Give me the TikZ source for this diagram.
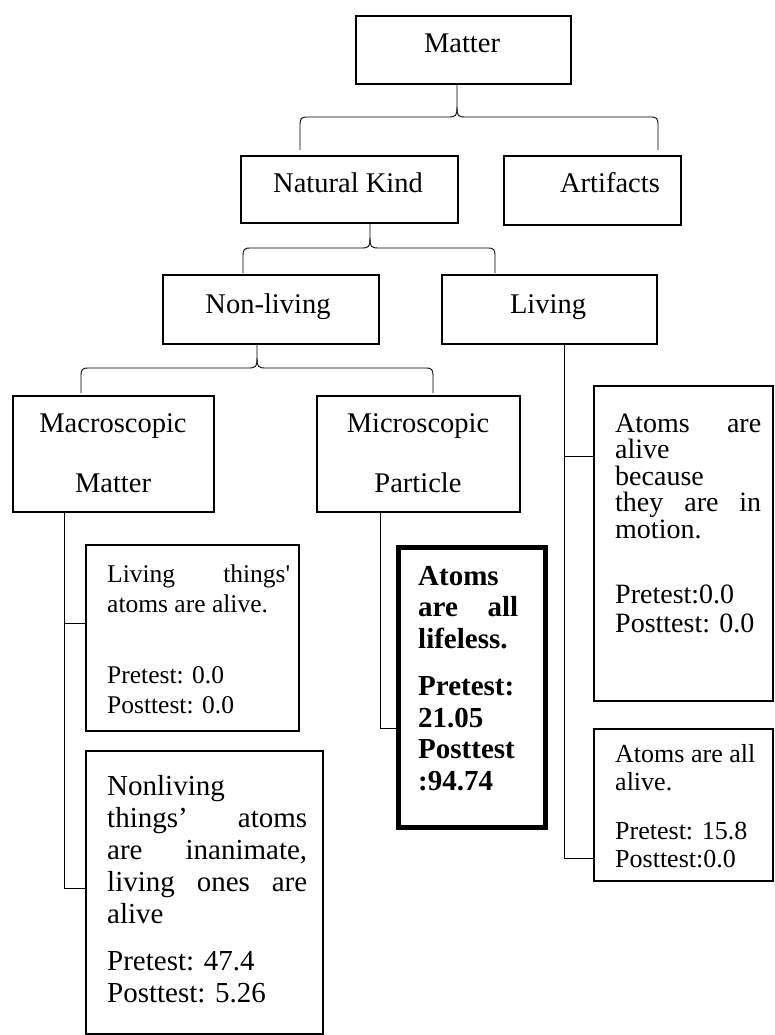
\documentclass[tikz,border=0pt]{standalone}
\usepackage{fontspec}
\setmainfont{Liberation Serif}
\usetikzlibrary{calc}

% text block: size, baseline skip, width, lines (first baseline is the anchor)
\newcommand\boxtext[4]{\parbox[t]{#3}{\fontsize{#1}{#2}\selectfont\lineskiplimit=-100pt\relax #4}}

% curly fork from a parent box down to two feet
\newcommand\forkdraw[4]{%
  \draw[link] (#1.south -| #2) -- ($(#2)+(0,-10)$)
     .. controls ($(#2)+(0,-1)$) and ($(#2)+(-1,0)$) .. ($(#2)+(-9,0)$)
     -- ($(#3 |- #2)+(8,0)$)
     .. controls ($(#3 |- #2)+(1,0)$) and ($(#3 |- #2)+(0,1)$) .. ($(#3 |- #2)+(0,9)$)
     -- (#3);
  \draw[link] ($(#2)+(0,-10)$)
     .. controls ($(#2)+(0,-1)$) and ($(#2)+(1,0)$) .. ($(#2)+(9,0)$)
     -- ($(#4 |- #2)+(-8,0)$)
     .. controls ($(#4 |- #2)+(-1,0)$) and ($(#4 |- #2)+(0,1)$) .. ($(#4 |- #2)+(0,9)$)
     -- (#4);
}

\tikzset{
  box/.style={draw, line width=1.8pt, inner sep=0pt, anchor=north west},
  heavybox/.style={draw, line width=5pt, inner sep=0pt, anchor=north west},
  link/.style={line width=0.9pt},
  lbl/.style={inner sep=0pt, anchor=base, font=\fontsize{28.5pt}{34pt}\selectfont},
  para/.style={inner sep=0pt, anchor=base west},
}

\begin{document}
\begin{tikzpicture}[x=1pt, y=-1pt]
\useasboundingbox (0,0) rectangle (774,1035);

% ---- boxes ----
\node[box, minimum width=215pt, minimum height=68pt] (matter)    at (355,15)  {};
\node[box, minimum width=217pt, minimum height=67pt] (natural)   at (240,155) {};
\node[box, minimum width=177pt, minimum height=69pt] (artifacts) at (503,155) {};
\node[box, minimum width=216pt, minimum height=69pt] (nonliving) at (162,274) {};
\node[box, minimum width=215pt, minimum height=69pt] (living)    at (441,274) {};
\node[box, minimum width=201pt, minimum height=116pt] (macro)    at (12,395)  {};
\node[box, minimum width=203pt, minimum height=116pt] (micro)    at (316,395) {};
\node[box, minimum width=213pt, minimum height=186pt] (l1)       at (85,544)  {};
\node[box, minimum width=237pt, minimum height=283pt] (l2)       at (85,750)  {};
\node[heavybox, minimum width=147pt, minimum height=280pt] (bold) at (395.5,544.5) {};
\node[box, minimum width=179pt, minimum height=315pt] (r1)       at (593,385) {};
\node[box, minimum width=179pt, minimum height=152pt] (r2)       at (593,728) {};

% ---- box labels ----
\node[lbl] (tmatter)    at (462,53)  {Matter};
\node[lbl] (tnatural)   at (348,193) {Natural Kind};
\node[lbl] (tartifacts) at (610,193) {Artifacts};
\node[lbl] (tnonliving) at (268,313) {Non-living};
\node[lbl] (tliving)    at (548,313) {Living};
\node[para, anchor=base] (tmacro) at (113,432)
  {\parbox[t]{190pt}{\centering\fontsize{28.5pt}{60pt}\selectfont Macroscopic\\ Matter}};
\node[para, anchor=base] (tmicro) at (418,432)
  {\parbox[t]{190pt}{\centering\fontsize{28.5pt}{60pt}\selectfont Microscopic\\ Particle}};

\node[para] (tl1) at (107,582) {\boxtext{25.5pt}{30pt}{183pt}{%
  Living\hfill things\textquotesingle\\ atoms are alive.\\[41pt] Pretest: 0.0\\ Posttest: 0.0}};
\node[para] (tl2) at (107,795) {\boxtext{29pt}{32pt}{200pt}{%
  Nonliving\\ things’\hfill atoms\\ are\hfill inanimate,\\ living\hfill ones\hfill are\\ alive\\[15pt]
  Pretest: 47.4\\ Posttest: 5.26}};
\node[para] (tbold) at (418,585) {\boxtext{29pt}{31.5pt}{100pt}{\bfseries
  Atoms\\ are\hfill all\\ lifeless.\\[16pt] Pretest:\\ 21.05\\ Posttest\\ :94.74}};
\node[para] (tr1) at (615,432) {\boxtext{28pt}{26.5pt}{146pt}{%
  Atoms\hfill are\\ alive\\ because\\ they\hfill are\hfill in\\ motion.\\[38.5pt] Pretest:0.0\\[2.5pt] Posttest: 0.0}};
\node[para] (tr2) at (615,762) {\boxtext{26pt}{28pt}{146pt}{%
  Atoms are all\\ alive.\\[21pt] Pretest: 15.8\\ Posttest:0.0}};

% ---- curly forks ----
\coordinate (f1) at (457,117);
\coordinate (f1l) at (300,150);
\coordinate (f1r) at (658,150);
\forkdraw{matter}{f1}{f1l}{f1r}

\coordinate (f2) at (370,248);
\coordinate (f2l) at (243,273);
\coordinate (f2r) at (495,273);
\forkdraw{natural}{f2}{f2l}{f2r}

\coordinate (f3) at (257,368);
\coordinate (f3l) at (81,393);
\coordinate (f3r) at (433,393);
\forkdraw{nonliving}{f3}{f3l}{f3r}

% ---- elbow branches ----
\coordinate (mk1) at (64,623);
\coordinate (mk2) at (64,888);
\draw[link] (macro.south -| mk2) -- (mk2) -- (mk2 -| l2.west);
\draw[link] (mk1) -- (mk1 -| l1.west);

\coordinate (mc1) at (380,728);
\draw[link] (micro.south -| mc1) -- (mc1) -- (mc1 -| bold.west);

\coordinate (lv1) at (564,456);
\coordinate (lv2) at (564,858);
\draw[link] (living.south -| lv2) -- (lv2) -- (lv2 -| r2.west);
\draw[link] (lv1) -- (lv1 -| r1.west);
\end{tikzpicture}
\end{document}
